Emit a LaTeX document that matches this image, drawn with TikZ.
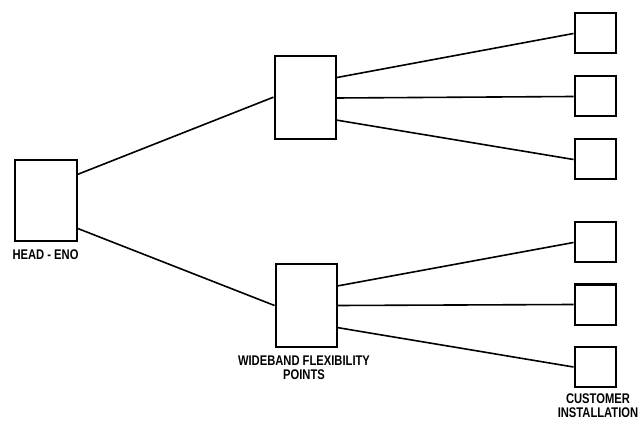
\documentclass[tikz,border=0pt]{standalone}
\usepackage{fontspec}
\setmainfont{Liberation Sans}[FakeStretch=0.8]
\usetikzlibrary{calc}
\begin{document}
\begin{tikzpicture}[x=0.75pt,y=-0.75pt,
  box/.style={draw, line width=1.5pt, inner sep=0pt, fill=white},
  headbox/.style={box, minimum width=46.5pt, minimum height=60.75pt},
  flexbox/.style={box, minimum width=45.75pt, minimum height=62.25pt},
  custbox/.style={box, minimum width=30.75pt, minimum height=30pt},
  feeder/.style={line width=1.2pt},
  caption/.style={font=\fontsize{10.5pt}{10.25pt}\selectfont\bfseries, align=center, inner sep=0pt}]
\useasboundingbox (0,0) rectangle (643,424);

% head-end, flexibility points and customer installations
\node[headbox] (he) at (45.5,201) {};
\node[flexbox] (fa) at (305,98) {};
\node[flexbox] (fb) at (306,305.5) {};
\node[custbox] (c1) at (595,33.5) {};
\node[custbox] (c2) at (595,96.5) {};
\node[custbox] (c3) at (595,159.5) {};
\node[custbox] (c4) at (595,242.5) {};
\node[custbox] (c5) at (595,304.5) {};
\node[custbox] (c6) at (595,367) {};

% captions
\node[caption] (helabel) at (45.5,255) {HEAD - ENO};
\node[caption] (fblabel) at (304,368) {WIDEBAND FLEXIBILITY\\POINTS};
\node[caption] (c6label) at (598,406) {CUSTOMER\\INSTALLATION};

% feeders from the head-end
\draw[feeder] ($(he.north east)!0.18!(he.south east)$) -- ($(fa.north west)!0.49!(fa.south west)$);
\draw[feeder] ($(he.north east)!0.83!(he.south east)$) -- ($(fb.north west)!0.5!(fb.south west)$);

% drops from the upper flexibility point
\draw[feeder] ($(fa.north east)!0.26!(fa.south east)$) -- (c1.west);
\draw[feeder] ($(fa.north east)!0.5!(fa.south east)$) -- (c2.west);
\draw[feeder] ($(fa.north east)!0.76!(fa.south east)$) -- (c3.west);

% drops from the lower flexibility point
\draw[feeder] ($(fb.north east)!0.27!(fb.south east)$) -- (c4.west);
\draw[feeder] ($(fb.north east)!0.5!(fb.south east)$) -- (c5.west);
\draw[feeder] ($(fb.north east)!0.76!(fb.south east)$) -- (c6.west);
\end{tikzpicture}
\end{document}
